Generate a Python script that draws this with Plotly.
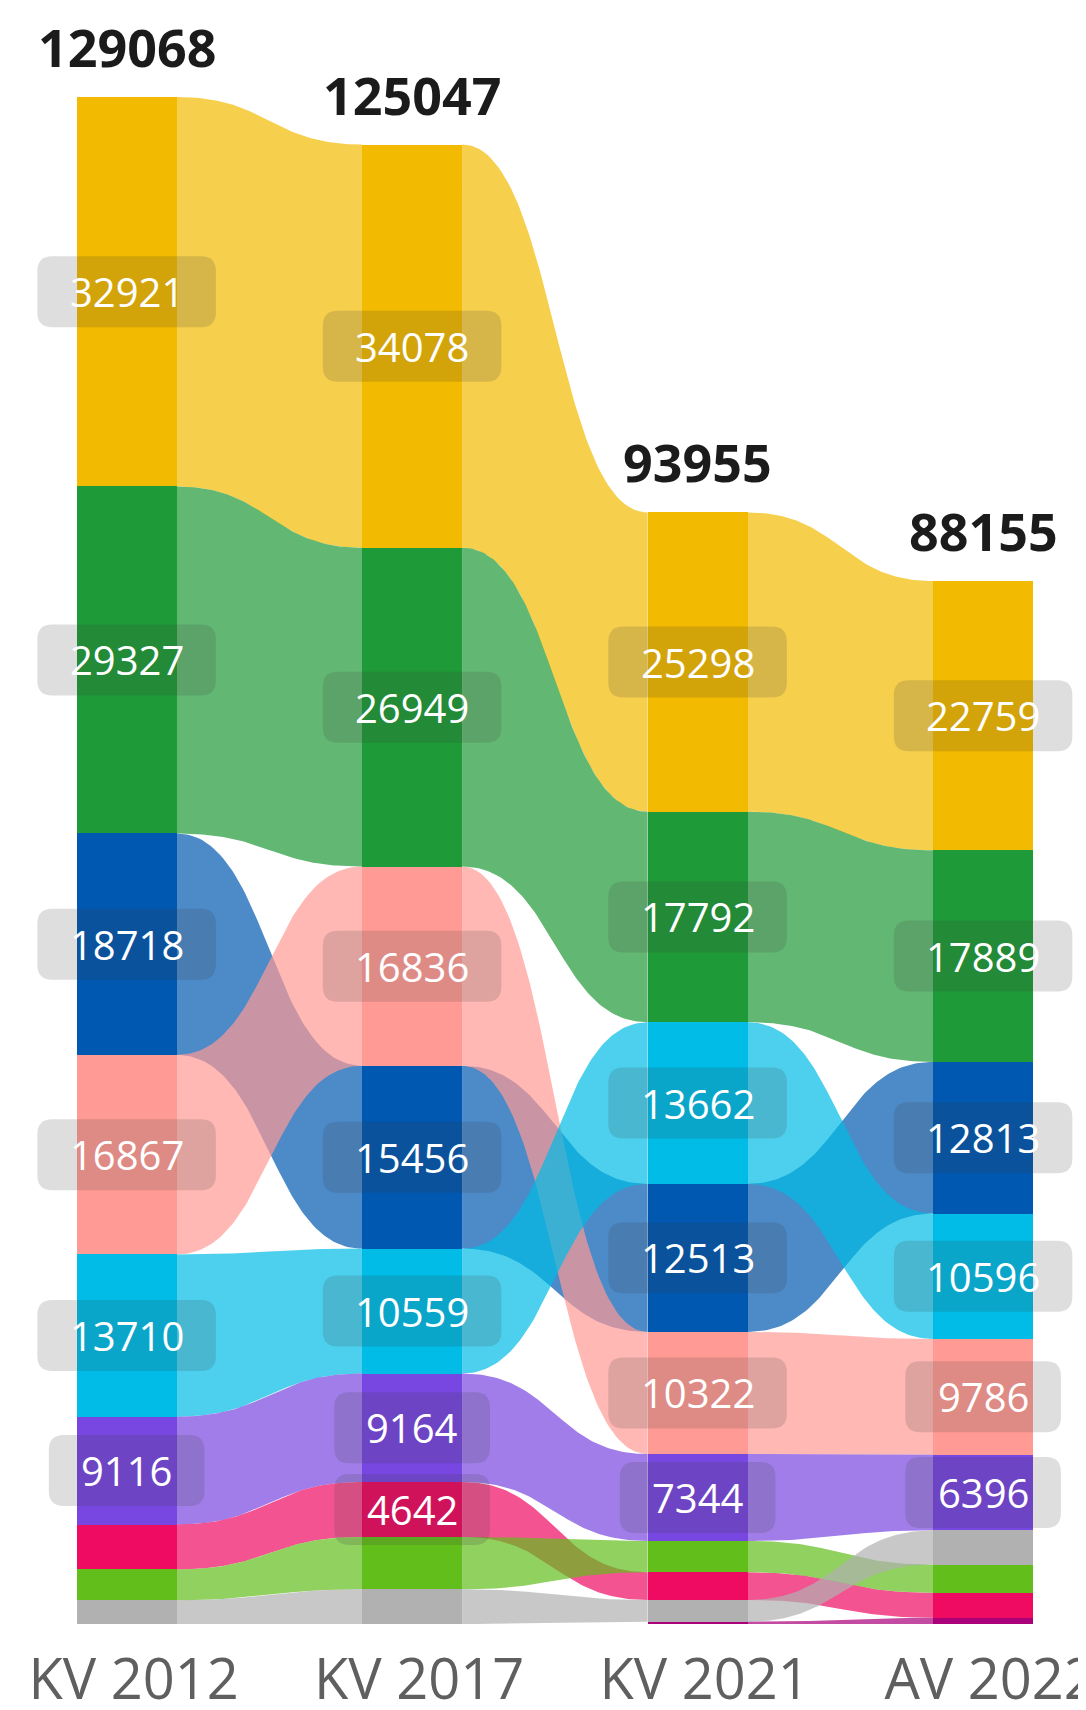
import numpy as np
import plotly.graph_objects as go

# ---------------- data ----------------
columns = ["KV 2012", "KV 2017", "KV 2021", "AV 2022"]

yellow = [32921, 34078, 25298, 22759]
green = [29327, 26949, 17792, 17889]
blue = [18718, 15456, 12513, 12813]
salmon = [16867, 16836, 10322, 9786]
cyan = [13710, 10559, 13662, 10596]
purple = [9116, 9164, 7344, 6396]
magenta = [3800, 4642, 2340, 2113]
lightgreen = [2600, 4430, 2650, 2381]
gray = [2009, 2933, 1840, 2890]
darkmagenta = [0, 0, 194, 532]

series = {
    "yellow": yellow, "green": green, "blue": blue, "salmon": salmon,
    "cyan": cyan, "purple": purple, "magenta": magenta,
    "lightgreen": lightgreen, "gray": gray, "darkmagenta": darkmagenta,
}
colors = {
    "yellow": (242, 186, 0), "green": (31, 154, 56), "blue": (0, 88, 176),
    "salmon": (255, 154, 148), "cyan": (0, 188, 230), "purple": (120, 70, 224),
    "magenta": (239, 10, 98), "lightgreen": (98, 190, 27), "gray": (177, 177, 177),
    "darkmagenta": (170, 0, 122),
}

# ---------------- layout constants ----------------
W, H = 1078, 1702
PLOT_BOTTOM = 1616.3
MB = H - PLOT_BOTTOM
PLOT_H = PLOT_BOTTOM
COL0_PX, COL_SP = 118.6, 285.5
BAR_W = 0.35
TOP_PAD = 89.0
LABEL_MIN = 4500
RIB_ALPHA = 0.7
TICK_DX_PX = 7

n = len(columns)
totals = [sum(series[p][c] for p in series) for c in range(n)]
ymax = max(totals) * PLOT_H / (PLOT_H - TOP_PAD)
xmin = -COL0_PX / COL_SP
xmax = xmin + W / COL_SP
px_x = COL_SP
px_y = PLOT_H / ymax

# segment positions per column (sorted descending from top)
seg = {p: [None] * n for p in series}
for c in range(n):
    order = sorted([p for p in series if series[p][c] > 0], key=lambda p: -series[p][c])
    top = totals[c]
    for p in order:
        v = series[p][c]
        seg[p][c] = (top - v, top)
        top -= v

fig = go.Figure()

# ribbons
t = np.linspace(0, 1, 80)
def bez(a, b):
    return (1 - t) ** 3 * a + 3 * (1 - t) ** 2 * t * a + 3 * (1 - t) * t ** 2 * b + t ** 3 * b

for p in series:
    r, g, b = colors[p]
    for c in range(n - 1):
        if seg[p][c] is None or seg[p][c + 1] is None:
            continue
        x0 = c + BAR_W / 2
        x1 = c + 1 - BAR_W / 2
        xm = (x0 + x1) / 2
        xs = (1 - t) ** 3 * x0 + 3 * (1 - t) ** 2 * t * xm + 3 * (1 - t) * t ** 2 * xm + t ** 3 * x1
        ytop = bez(seg[p][c][1], seg[p][c + 1][1])
        ybot = bez(seg[p][c][0], seg[p][c + 1][0])
        fig.add_trace(go.Scatter(
            x=np.concatenate([xs, xs[::-1]]),
            y=np.concatenate([ytop, ybot[::-1]]),
            fill="toself", mode="lines", line=dict(width=0),
            fillcolor=f"rgba({r},{g},{b},{RIB_ALPHA})",
            hoverinfo="skip", showlegend=False,
        ))

# bars
for p in series:
    r, g, b = colors[p]
    xs = [c for c in range(n) if seg[p][c] is not None]
    fig.add_trace(go.Bar(
        x=xs,
        y=[series[p][c] for c in xs],
        base=[seg[p][c][0] for c in xs],
        width=BAR_W,
        marker=dict(color=f"rgb({r},{g},{b})", line=dict(width=0)),
        showlegend=False, name=p,
    ))

# labels with rounded boxes
shapes = []
annotations = []
def rrect(cx, cy, wpx, hpx, rpx):
    dx, dy = wpx / 2 / px_x, hpx / 2 / px_y
    rx, ry = rpx / px_x, rpx / px_y
    L, R, T, B = cx - dx, cx + dx, cy + dy, cy - dy
    return (f"M {L+rx},{T} L {R-rx},{T} Q {R},{T} {R},{T-ry} L {R},{B+ry} "
            f"Q {R},{B} {R-rx},{B} L {L+rx},{B} Q {L},{B} {L},{B+ry} "
            f"L {L},{T-ry} Q {L},{T} {L+rx},{T} Z")

for p in series:
    for c in range(n):
        v = series[p][c]
        if v < LABEL_MIN:
            continue
        lo, hi = seg[p][c]
        cy = (lo + hi) / 2
        txt = str(v)
        wpx = 22.9 * len(txt) + 64
        shapes.append(dict(type="path", xref="x", yref="y", path=rrect(c, cy, wpx, 71, 15),
                           fillcolor="rgba(60,60,60,0.17)", line=dict(width=0), layer="above"))
        annotations.append(dict(x=c, y=cy, text=txt, showarrow=False,
                                font=dict(family="Open Sans", size=40, color="white")))

for c in range(n):
    annotations.append(dict(x=c, y=totals[c], text=f"<b>{totals[c]}</b>", showarrow=False,
                            yanchor="bottom", yshift=13,
                            font=dict(family="Open Sans", size=52, color="#1b1b1b")))

fig.update_layout(
    width=W, height=H,
    margin=dict(l=0, r=0, t=0, b=MB),
    paper_bgcolor="white", plot_bgcolor="white",
    barmode="overlay", bargap=0,
    shapes=shapes, annotations=annotations,
    xaxis=dict(range=[xmin, xmax],
               tickvals=[c + TICK_DX_PX / px_x for c in range(n)], ticktext=columns,
               showgrid=False, zeroline=False, showline=False, ticks="",
               ticklabelstandoff=18, ticklabeloverflow="allow",
               tickfont=dict(family="Open Sans", size=56, color="#5f5f5f"),
               automargin=False, fixedrange=True),
    yaxis=dict(range=[0, ymax], showgrid=False, zeroline=False, showline=False,
               showticklabels=False, automargin=False, fixedrange=True),
    showlegend=False,
)

fig.write_html("out.html")
